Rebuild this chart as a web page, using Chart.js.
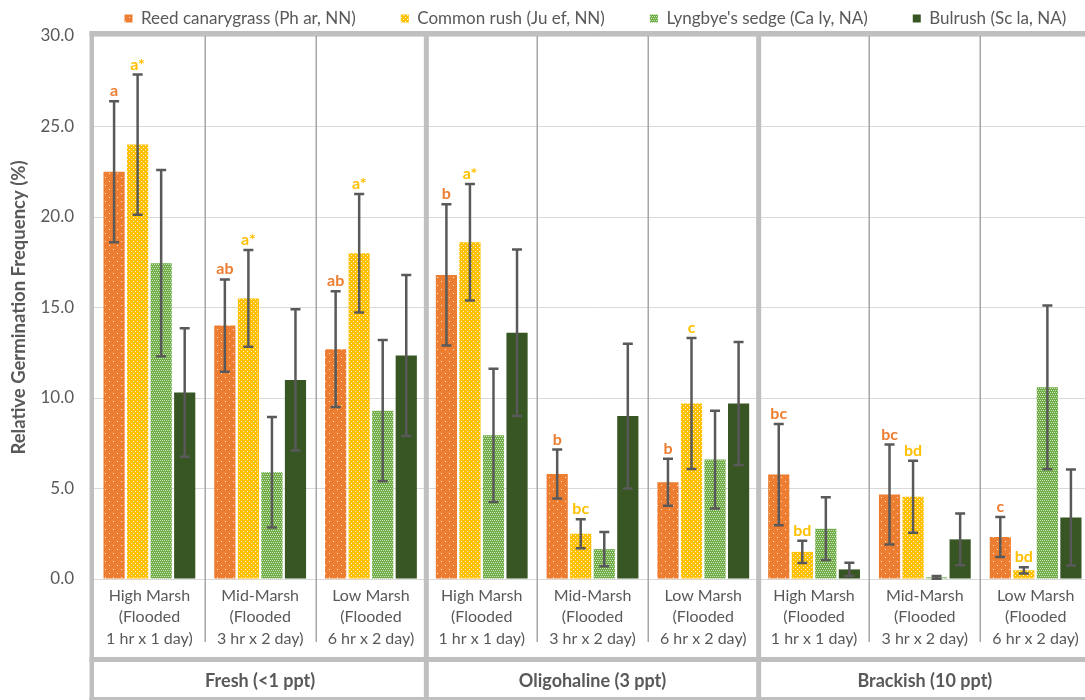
<!DOCTYPE html>
<html>
<head>
<meta charset="utf-8">
<script src="https://cdn.jsdelivr.net/npm/chart.js@4.4.1/dist/chart.umd.min.js"></script>
<style>
  html, body { margin: 0; padding: 0; overflow: hidden; background: #ffffff; }
  #wrap { width: 1085px; height: 700px; overflow: hidden; position: relative; }
  canvas { display: block; }
</style>
</head>
<body>
<div id="wrap"><canvas id="chart" width="1091" height="700"></canvas></div>
<script>
// ---- data ----
const categories = [
  ['High Marsh', '(Flooded', '1 hr x 1 day)'],
  ['Mid-Marsh', '(Flooded', '3 hr x 2 day)'],
  ['Low Marsh', '(Flooded', '6 hr x 2 day)'],
  ['High Marsh', '(Flooded', '1 hr x 1 day)'],
  ['Mid-Marsh', '(Flooded', '3 hr x 2 day)'],
  ['Low Marsh', '(Flooded', '6 hr x 2 day)'],
  ['High Marsh', '(Flooded', '1 hr x 1 day)'],
  ['Mid-Marsh', '(Flooded', '3 hr x 2 day)'],
  ['Low Marsh', '(Flooded', '6 hr x 2 day)']
];
const salinityGroups = ['Fresh (<1 ppt)', 'Oligohaline (3 ppt)', 'Brackish (10 ppt)'];
const seriesNames = [
  'Reed canarygrass (Ph ar, NN)',
  'Common rush (Ju ef, NN)',
  "Lyngbye's sedge (Ca ly, NA)",
  'Bulrush (Sc la, NA)'
];

const reedCanarygrass    = [22.5, 14.0, 12.7, 16.8, 5.8, 5.35, 5.77, 4.67, 2.32];
const reedCanarygrassErr = [3.9, 2.55, 3.2, 3.9, 1.35, 1.3, 2.8, 2.76, 1.1];
const commonRush         = [24.0, 15.5, 18.0, 18.6, 2.5, 9.7, 1.5, 4.54, 0.48];
const commonRushErr      = [3.87, 2.67, 3.27, 3.22, 0.8, 3.62, 0.62, 1.99, 0.17];
const lyngbyeSedge       = [17.45, 5.9, 9.3, 7.94, 1.65, 6.6, 2.78, 0.09, 10.59];
const lyngbyeSedgeErr    = [5.15, 3.05, 3.9, 3.68, 0.95, 2.7, 1.73, 0.08, 4.52];
const bulrush            = [10.3, 11.0, 12.35, 13.6, 9.0, 9.7, 0.53, 2.19, 3.4];
const bulrushErr         = [3.55, 3.9, 4.45, 4.6, 4.0, 3.4, 0.37, 1.43, 2.65];

const reedLetters = ['a', 'ab', 'ab', 'b', 'b', 'b', 'bc', 'bc', 'c'];
const rushLetters = ['a*', 'a*', 'a*', 'a*', 'bc', 'c', 'bd', 'bd', 'bd'];

const yTicks = { min: 0, max: 30, step: 5 };

// ---- styling ----
const FONT = 'Lato, "Open Sans", sans-serif';
const TEXT = '#595959';
const FRAME = '#bfbfbf';

function dotPattern(bg, w, h, dots, dotColor) {
  const c = document.createElement('canvas');
  c.width = w;
  c.height = h;
  const g = c.getContext('2d');
  g.fillStyle = bg;
  g.fillRect(0, 0, w, h);
  g.fillStyle = dotColor;
  dots.forEach(([a, b]) => g.fillRect(a, b, 1, 1));
  return g.createPattern(c, 'repeat');
}

const orangeFill = dotPattern('#ED7D31', 8, 8, [[1, 1], [5, 5]], 'rgba(255,255,255,0.85)');
const yellowFill = dotPattern('#FFC000', 8, 4, [[1, 1], [5, 1], [3, 3], [7, 3]], 'rgba(255,255,255,0.85)');
const greenFill  = dotPattern('#70AD47', 4, 4, [[0, 0], [2, 0], [1, 2], [3, 2]], 'rgba(255,255,255,0.65)');
const darkGreen  = '#375623';

const errorSets = [reedCanarygrassErr, commonRushErr, lyngbyeSedgeErr, bulrushErr];
const letterSets = [
  { letters: reedLetters, color: '#ED7D31' },
  { letters: rushLetters, color: '#FFC000' }
];

// ---- plugins ----
// The legend row sits in the band above the frame, its first swatch at a fixed x.
const LEGEND_START_X = 124.5;
const legendPlacement = {
  id: 'legendPlacement',
  afterLayout(chart) {
    const lg = chart.legend;
    if (!lg || !lg.lineWidths) return;
    const pad = lg.options.labels.padding;
    const natural = (lg.left + pad + lg.right - lg.lineWidths[0]) / 2;
    const dx = LEGEND_START_X - natural;
    lg.top -= 35;
    lg.left += dx;
    lg.right += dx;
  }
};

const errorBars = {
  id: 'errorBars',
  afterDatasetsDraw(chart) {
    const { ctx } = chart;
    const y = chart.scales.y;
    ctx.save();
    ctx.strokeStyle = '#595959';
    ctx.lineWidth = 2.5;
    ctx.lineCap = 'butt';
    chart.data.datasets.forEach((ds, di) => {
      const meta = chart.getDatasetMeta(di);
      const errs = errorSets[di];
      meta.data.forEach((bar, i) => {
        const v = ds.data[i], e = errs[i];
        const top = y.getPixelForValue(v + e);
        const bot = y.getPixelForValue(Math.max(0, v - e));
        ctx.beginPath();
        ctx.moveTo(bar.x, top); ctx.lineTo(bar.x, bot);
        ctx.moveTo(bar.x - 5, top); ctx.lineTo(bar.x + 5, top);
        ctx.moveTo(bar.x - 5, bot); ctx.lineTo(bar.x + 5, bot);
        ctx.stroke();
      });
    });
    // significance letters above the error bars
    ctx.font = 'bold 16px ' + FONT;
    ctx.textAlign = 'center';
    ctx.textBaseline = 'alphabetic';
    letterSets.forEach((set, di) => {
      const ds = chart.data.datasets[di];
      const meta = chart.getDatasetMeta(di);
      ctx.fillStyle = set.color;
      meta.data.forEach((bar, i) => {
        const top = y.getPixelForValue(ds.data[i] + errorSets[di][i]);
        ctx.fillText(set.letters[i], bar.x, top - 5);
      });
    });
    ctx.restore();
  }
};

const frameAndGroups = {
  id: 'frameAndGroups',
  afterDraw(chart) {
    const { ctx, chartArea: ca } = chart;
    const x = chart.scales.x;
    const n = categories.length;
    const bound = i => {
      if (i <= 0) return ca.left;
      if (i >= n) return ca.right;
      return (x.getPixelForValue(i - 1) + x.getPixelForValue(i)) / 2;
    };
    const H = chart.height;
    ctx.save();
    // thin separators between flooding regimes
    ctx.strokeStyle = '#a6a6a6';
    ctx.lineWidth = 1.5;
    for (let i = 1; i < n; i++) {
      if (i % 3 === 0) continue;
      const bx = Math.round(bound(i)) + 0.25;
      ctx.beginPath();
      ctx.moveTo(bx, ca.top);
      ctx.lineTo(bx, 642);
      ctx.stroke();
    }
    // heavy frame
    ctx.fillStyle = FRAME;
    const top = ca.top - 5;
    ctx.fillRect(ca.left - 4.5, top, 4.5, H - top);
    ctx.fillRect(ca.left - 4.5, top, ca.right - ca.left + 10, 5);
    [3, 6].forEach(i => ctx.fillRect(bound(i) - 2.5, top, 5, H - top));
    ctx.fillRect(ca.left - 4.5, 657, ca.right - ca.left + 10, 5);
    ctx.fillRect(ca.left - 4.5, 697, ca.right - ca.left + 10, 5);
    // salinity group labels
    ctx.fillStyle = TEXT;
    ctx.font = 'bold 18px ' + FONT;
    ctx.textAlign = 'center';
    ctx.textBaseline = 'middle';
    salinityGroups.forEach((g, gi) => {
      const cx = (bound(gi * 3) + bound(gi * 3 + 3)) / 2;
      ctx.fillText(g, cx, 681);
    });
    ctx.restore();
  }
};

// ---- chart ----
new Chart(document.getElementById('chart'), {
  type: 'bar',
  data: {
    labels: categories,
    datasets: [
      { label: seriesNames[0], data: reedCanarygrass, backgroundColor: orangeFill },
      { label: seriesNames[1], data: commonRush, backgroundColor: yellowFill },
      { label: seriesNames[2], data: lyngbyeSedge, backgroundColor: greenFill },
      { label: seriesNames[3], data: bulrush, backgroundColor: darkGreen }
    ]
  },
  options: {
    responsive: false,
    animation: false,
    devicePixelRatio: 1,
    layout: { padding: 0 },
    datasets: { bar: { categoryPercentage: 0.85, barPercentage: 0.9, borderWidth: 0 } },
    plugins: {
      tooltip: { enabled: false },
      legend: {
        position: 'top',
        align: 'center',
        maxHeight: 36,
        labels: {
          boxWidth: 8,
          boxHeight: 8,
          padding: 45,
          color: TEXT,
          font: { family: FONT, size: 17 }
        }
      }
    },
    scales: {
      x: {
        grid: { display: false, drawTicks: false },
        border: { display: false },
        ticks: {
          color: TEXT,
          font: { family: FONT, size: 16, lineHeight: 1.34 },
          padding: 6,
          maxRotation: 0,
          autoSkip: false
        },
        afterFit(s) { s.height = 121; }
      },
      y: {
        min: yTicks.min,
        max: yTicks.max,
        grid: { color: '#d9d9d9', lineWidth: 1, drawTicks: false },
        border: { display: false },
        ticks: {
          stepSize: yTicks.step,
          color: TEXT,
          padding: 20,
          font: { family: FONT, size: 17 },
          callback: v => Number(v).toFixed(1)
        },
        title: {
          display: true,
          text: 'Relative Germination Frequency (%)',
          color: TEXT,
          font: { family: FONT, size: 18.5, weight: 'bold' },
          padding: { top: 8, bottom: 0 }
        },
        afterFit(s) { s.width = 94; }
      }
    }
  },
  plugins: [legendPlacement, errorBars, frameAndGroups]
});
</script>
</body>
</html>
